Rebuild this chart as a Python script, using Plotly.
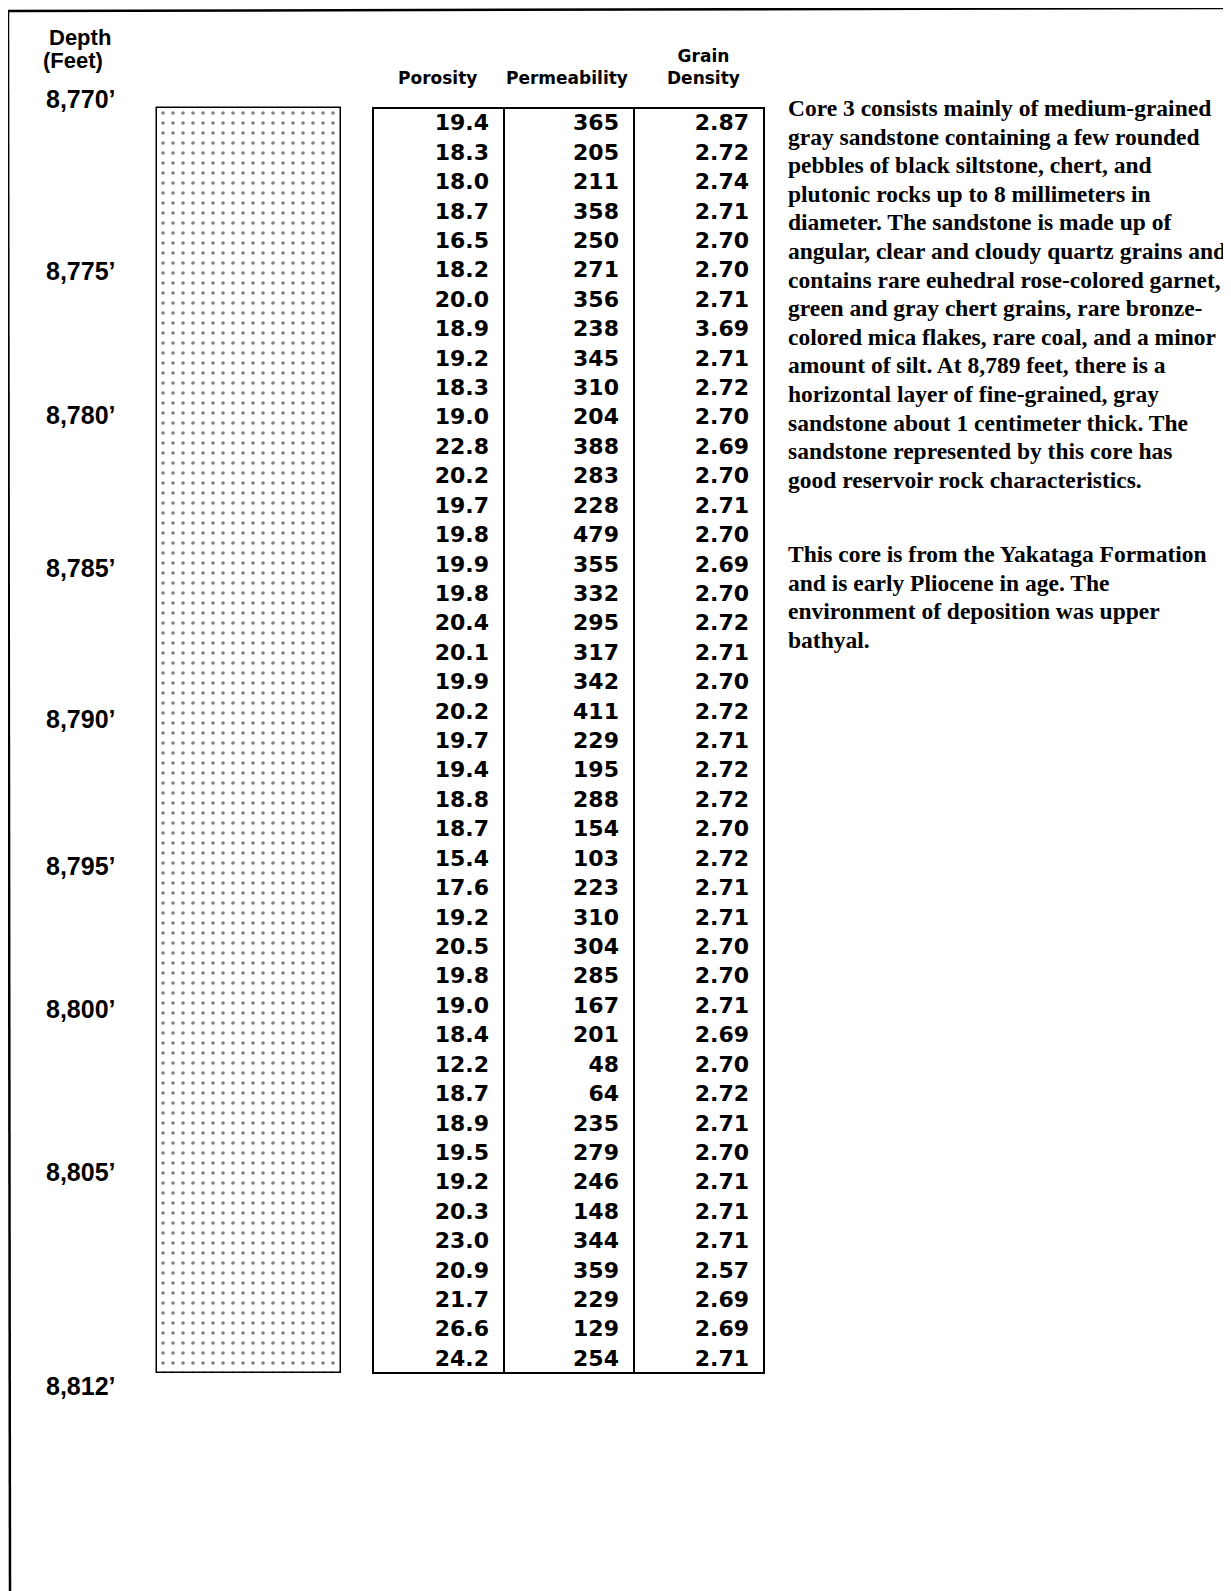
import plotly.graph_objects as go

# ---------------- data ----------------
sample_depth = [8770, 8771, 8772, 8773, 8774, 8775, 8776, 8777, 8778, 8779,
                8780, 8781, 8782, 8783, 8784, 8785, 8786, 8787, 8788, 8789,
                8790, 8791, 8792, 8793, 8794, 8795, 8796, 8797, 8798, 8799,
                8800, 8801, 8802, 8803, 8804, 8805, 8806, 8807, 8808, 8809,
                8810, 8811, 8812]
porosity = [19.4, 18.3, 18.0, 18.7, 16.5, 18.2, 20.0, 18.9, 19.2, 18.3,
            19.0, 22.8, 20.2, 19.7, 19.8, 19.9, 19.8, 20.4, 20.1, 19.9,
            20.2, 19.7, 19.4, 18.8, 18.7, 15.4, 17.6, 19.2, 20.5, 19.8,
            19.0, 18.4, 12.2, 18.7, 18.9, 19.5, 19.2, 20.3, 23.0, 20.9,
            21.7, 26.6, 24.2]
permeability = [365, 205, 211, 358, 250, 271, 356, 238, 345, 310,
                204, 388, 283, 228, 479, 355, 332, 295, 317, 342,
                411, 229, 195, 288, 154, 103, 223, 310, 304, 285,
                167, 201, 48, 64, 235, 279, 246, 148, 344, 359,
                229, 129, 254]
grain_density = [2.87, 2.72, 2.74, 2.71, 2.70, 2.70, 2.71, 3.69, 2.71, 2.72,
                 2.70, 2.69, 2.70, 2.71, 2.70, 2.69, 2.70, 2.72, 2.71, 2.70,
                 2.72, 2.71, 2.72, 2.72, 2.70, 2.72, 2.71, 2.71, 2.70, 2.70,
                 2.71, 2.69, 2.70, 2.72, 2.71, 2.70, 2.71, 2.71, 2.71, 2.57,
                 2.69, 2.69, 2.71]
depth_labels = ["8,770’", "8,775’", "8,780’", "8,785’", "8,790’", "8,795’",
                "8,800’", "8,805’", "8,812’"]
depth_label_pos = [8769.79, 8775.64, 8780.54, 8785.74, 8790.87, 8795.87,
                   8800.73, 8806.27, 8813.54]
core_top = 8770
core_bottom = 8813
column_headers = ["Porosity", "Permeability", "Grain<br>Density"]

para1_lines = [
    "Core 3 consists mainly of medium-grained",
    "gray sandstone containing a few rounded",
    "pebbles of black siltstone, chert, and",
    "plutonic rocks up to 8 millimeters in",
    "diameter. The sandstone is made up of",
    "angular, clear and cloudy quartz grains and",
    "contains rare euhedral rose-colored garnet,",
    "green and gray chert grains, rare bronze-",
    "colored mica flakes, rare coal, and a minor",
    "amount of silt. At 8,789 feet, there is a",
    "horizontal layer of fine-grained, gray",
    "sandstone about 1 centimeter thick. The",
    "sandstone represented by this core has",
    "good reservoir rock characteristics.",
]
para2_lines = [
    "This core is from the Yakataga Formation",
    "and is early Pliocene in age. The",
    "environment of deposition was upper",
    "bathyal.",
]

# ---------------- layout helpers ----------------
W, H = 1231, 1591
OFF = 8                              # default page body margin of the html
PX_TOP, PX_BOT = 108, 1373           # page pixel rows of core top / bottom
scale = (PX_BOT - PX_TOP) / (core_bottom - core_top)
y_top = core_top - (PX_TOP - OFF) / scale
y_bot = core_top + (H + OFF - PX_TOP) / scale
TEXT_SHIFT = 0.07                    # small vertical nudge of row text


def py(px):
    return 1 - (px - OFF) / H


row_center = [d + 0.5 + TEXT_SHIFT for d in sample_depth]

NUM_FONT = dict(family="DejaVu Sans", size=22, color="black", weight="bold")
HDR_FONT = dict(family="DejaVu Sans", size=17, color="black", weight="bold")
PARA_FONT = dict(family="Liberation Serif", size=23.5, color="black",
                 weight="bold")
LBL_FONT = dict(family="Liberation Sans", size=25, color="black",
                weight="bold")

fig = go.Figure()

# core lithology column (sandstone dotted pattern)
fig.add_trace(go.Bar(
    x=[249], y=[core_bottom - core_top], base=[core_top], width=[184],
    marker=dict(color="white",
                line=dict(color="black", width=1.5),
                pattern=dict(shape=".", fgcolor="black", bgcolor="white",
                             size=10, solidity=0.1)),
    hoverinfo="skip"))

# table values
fig.add_trace(go.Scatter(
    x=[489] * len(porosity), y=row_center, mode="text",
    text=[f"{v:.1f}" for v in porosity], textposition="middle left",
    textfont=NUM_FONT, hoverinfo="skip"))
fig.add_trace(go.Scatter(
    x=[619] * len(permeability), y=row_center, mode="text",
    text=[f"{v:d}" for v in permeability], textposition="middle left",
    textfont=NUM_FONT, hoverinfo="skip"))
fig.add_trace(go.Scatter(
    x=[749] * len(grain_density), y=row_center, mode="text",
    text=[f"{v:.2f}" for v in grain_density], textposition="middle left",
    textfont=NUM_FONT, hoverinfo="skip"))

# depth labels
fig.add_trace(go.Scatter(
    x=[46] * len(depth_labels), y=depth_label_pos, mode="text",
    text=depth_labels, textposition="middle right",
    textfont=LBL_FONT, hoverinfo="skip"))

# table frame
fig.add_shape(type="rect", x0=373, x1=764, y0=core_top, y1=core_bottom,
              xref="x", yref="y", line=dict(color="black", width=2))
for xs in (504, 634):
    fig.add_shape(type="line", x0=xs, x1=xs, y0=core_top, y1=core_bottom,
                  xref="x", yref="y", line=dict(color="black", width=2))

# outer page frame
fig.add_shape(type="line", x0=8, x1=W + OFF, y0=py(11), y1=py(8), xref="x",
              yref="paper", line=dict(color="black", width=2.5))
fig.add_shape(type="line", x0=8, x1=10, y0=py(11), y1=py(H + OFF), xref="x",
              yref="paper", line=dict(color="black", width=2.5))

# headers
ann = []
ann.append(dict(x=80, y=py(38), yanchor="middle", text="Depth",
                showarrow=False, xref="x", yref="paper",
                font=dict(LBL_FONT, size=22)))
ann.append(dict(x=73, y=py(60), yanchor="middle", text="(Feet)",
                showarrow=False, xref="x", yref="paper",
                font=dict(LBL_FONT, size=22)))
hdr_x = [437, 567, 703]
for hx, ht in zip(hdr_x, column_headers):
    ann.append(dict(x=hx, y=py(90), yanchor="bottom", text=ht,
                    showarrow=False, xref="x", yref="paper", font=HDR_FONT))

LINE_H = 28.6
for i, line in enumerate(para1_lines):
    ann.append(dict(x=786, y=py(108 + i * LINE_H), xanchor="left",
                    yanchor="middle", text=line, showarrow=False,
                    xref="x", yref="paper", font=PARA_FONT))
for i, line in enumerate(para2_lines):
    ann.append(dict(x=786, y=py(554 + i * LINE_H), xanchor="left",
                    yanchor="middle", text=line, showarrow=False,
                    xref="x", yref="paper", font=PARA_FONT))

fig.update_layout(
    width=W, height=H, margin=dict(l=0, r=0, t=0, b=0),
    paper_bgcolor="white", plot_bgcolor="white", showlegend=False,
    xaxis=dict(range=[OFF, W + OFF], visible=False, fixedrange=True),
    yaxis=dict(range=[y_bot, y_top], visible=False, fixedrange=True),
    annotations=ann, bargap=0)

fig.write_html("out.html")
